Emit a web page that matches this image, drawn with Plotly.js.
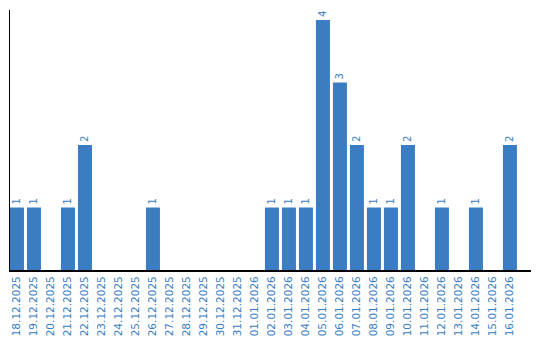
<!DOCTYPE html>
<html><head><meta charset="utf-8">
<script src="https://cdn.plot.ly/plotly-3.0.1.min.js"></script>
<style>html,body{margin:0;padding:0;background:#fff}#chart{width:540px;height:340px}</style>
</head><body><div id="chart"></div>
<script>
const dates = ["18.12.2025","19.12.2025","20.12.2025","21.12.2025","22.12.2025","23.12.2025","24.12.2025","25.12.2025","26.12.2025","27.12.2025","28.12.2025","29.12.2025","30.12.2025","31.12.2025","01.01.2026","02.01.2026","03.01.2026","04.01.2026","05.01.2026","06.01.2026","07.01.2026","08.01.2026","09.01.2026","10.01.2026","11.01.2026","12.01.2026","13.01.2026","14.01.2026","15.01.2026","16.01.2026"];
const counts = [1,1,0,1,2,0,0,0,1,0,0,0,0,0,0,1,1,1,4,3,2,1,1,2,0,1,0,1,0,2];
const labels = counts.map(v => v > 0 ? String(v) : "");
const blue = "#3a7dc2";
Plotly.newPlot("chart", [{
  type: "bar", x: dates, y: counts, text: labels,
  textposition: "outside", textangle: -90, cliponaxis: false,
  textfont: {family: "DejaVu Sans", size: 10, color: blue},
  marker: {color: blue}, hoverinfo: "none"
}], {
  width: 540, height: 340,
  margin: {l: 10, r: 9, t: 10, b: 70},
  paper_bgcolor: "#fff", plot_bgcolor: "#fff",
  bargap: 0.176, showlegend: false,
  xaxis: {type: "category", range: [-0.41, 30.24], showline: true, linecolor: "#000", linewidth: 2,
    showgrid: false, zeroline: false, ticks: "", tickangle: -90,
    tickfont: {family: "DejaVu Sans", size: 10.5, color: blue}},
  yaxis: {range: [0, 4.16], showline: true, linecolor: "#000", linewidth: 1,
    showgrid: false, zeroline: false, showticklabels: false, ticks: ""}
}, {staticPlot: true});
</script></body></html>
